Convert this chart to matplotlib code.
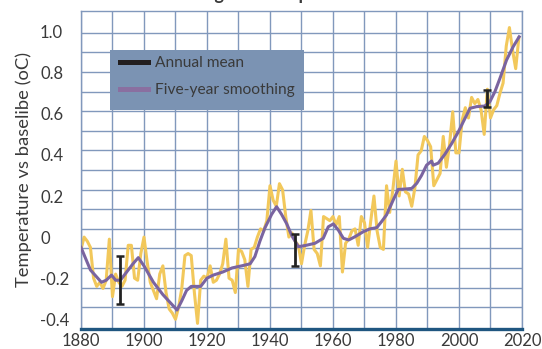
import numpy as np
import matplotlib.pyplot as plt
from matplotlib.lines import Line2D
from matplotlib.patches import Rectangle

# annual mean anomaly, 1880-2019
years = np.arange(1880, 2020)
annual = [
    -0.06, 0.00, -0.02, -0.05, -0.20, -0.24, -0.22, -0.25, -0.21, -0.01,
    -0.29, -0.18, -0.22, -0.24, -0.21, -0.04, -0.04, -0.20, -0.21, -0.08,
    0.00, -0.12, -0.22, -0.26, -0.30, -0.18, -0.14, -0.27, -0.35, -0.37,
    -0.40, -0.34, -0.25, -0.09, -0.08, -0.09, -0.27, -0.42, -0.21, -0.19,
    -0.20, -0.14, -0.22, -0.21, -0.18, -0.13, -0.01, -0.20, -0.21, -0.27,
    -0.06, -0.07, -0.11, -0.24, -0.06, -0.05, 0.00, 0.04, 0.03, 0.08,
    0.25, 0.18, 0.15, 0.26, 0.23, 0.10, 0.00, 0.02, -0.02, -0.04,
    -0.13, -0.04, 0.03, 0.13, -0.06, -0.08, -0.14, 0.10, 0.09, 0.08,
    0.10, 0.06, 0.10, -0.17, -0.03, -0.01, 0.03, 0.04, -0.04, 0.10,
    0.07, -0.05, 0.08, 0.20, 0.03, -0.05, -0.06, 0.25, 0.12, 0.23,
    0.37, 0.20, 0.33, 0.22, 0.21, 0.15, 0.24, 0.40, 0.42, 0.49,
    0.47, 0.44, 0.25, 0.28, 0.31, 0.49, 0.34, 0.45, 0.61, 0.41,
    0.41, 0.57, 0.63, 0.58, 0.68, 0.65, 0.67, 0.62, 0.50, 0.72,
    0.58, 0.62, 0.64, 0.70, 0.75, 0.93, 1.02, 0.91, 0.82, 0.97,
]

# five-year smoothing
smooth_years = [1880, 1883, 1886.5, 1888, 1889.7, 1891, 1892.5, 1894.5, 1896.5, 1898.2,
                1900, 1903, 1906, 1909, 1910.5, 1912, 1913.5, 1915, 1918, 1920,
                1922, 1925, 1928, 1931, 1933.7, 1935.2, 1936.8, 1938.4, 1940.5, 1942.1,
                1943.7, 1945.3, 1947, 1949, 1951.5, 1954.3, 1956.9, 1958.5, 1960.1, 1961.7,
                1963.3, 1965, 1967, 1969.6, 1971.7, 1973.9, 1975.4, 1977, 1979.1, 1980.7,
                1983, 1985, 1986.6, 1988.1, 1989.7, 1991.3, 1991.8, 1993.4, 1995.6, 1997.7,
                1999.8, 2001.9, 2003.5, 2005.6, 2008.2, 2009.8, 2011.4, 2013, 2015.1, 2017.2,
                2019.1]
smooth = [-0.05, -0.16, -0.22, -0.21, -0.185, -0.21, -0.21, -0.17, -0.13, -0.10,
          -0.14, -0.22, -0.28, -0.33, -0.355, -0.31, -0.26, -0.24, -0.24, -0.20,
          -0.185, -0.17, -0.15, -0.14, -0.13, -0.095, -0.02, 0.045, 0.11, 0.148,
          0.11, 0.065, 0.005, -0.047, -0.04, -0.03, -0.006, 0.05, 0.064, 0.034,
          -0.006, -0.014, 0.002, 0.026, 0.04, 0.046, 0.075, 0.108, 0.18, 0.232,
          0.234, 0.237, 0.262, 0.30, 0.35, 0.37, 0.35, 0.36, 0.405, 0.456,
          0.513, 0.578, 0.627, 0.635, 0.638, 0.659, 0.708, 0.773, 0.862, 0.927,
          0.975]

# uncertainty bars
err_years = [1892.5, 1948, 2009]
err_center = [-0.21, -0.064, 0.674]
err_half = [0.118, 0.078, 0.042]

text_col = '#3a3a3a'
grid_col = '#8198bc'
plt.rcParams['font.family'] = ['Lato', 'DejaVu Sans']

fig = plt.figure(figsize=(5.42, 3.49), dpi=100)
ax = fig.add_axes([0.1494, 0.0573, 0.8137, 0.912])

ax.set_xlim(1880, 2020)
ax.set_ylim(-0.4474, 1.102)

# grid
for gx in np.arange(1880, 2021, 10):
    ax.axvline(gx, color=grid_col, lw=1.0, zorder=1)
for gy in np.linspace(-0.342, 0.995, 15):
    ax.axhline(gy, color=grid_col, lw=1.0, zorder=1)

ax.plot(years, annual, color='#f2c85b', lw=2.2, zorder=2)
ax.plot(smooth_years, smooth, color='#7a64a0', lw=2.2, zorder=3)
ax.errorbar(err_years, err_center, yerr=err_half, fmt='none', ecolor='#222222',
            elinewidth=2.0, capsize=3, capthick=1.8, zorder=4)

for s in ['left', 'right', 'top']:
    ax.spines[s].set_color(grid_col)
    ax.spines[s].set_linewidth(1.0)
ax.spines['bottom'].set_color('#1f5680')
ax.spines['bottom'].set_linewidth(2.4)

ax.set_xticks(np.arange(1880, 2021, 20))
ax.set_yticks([-0.4, -0.2, 0, 0.2, 0.4, 0.6, 0.8, 1.0])
ax.set_yticklabels(['-0.4', '-0.2', '0', '0.2', '0.4', '0.6', '0.8', '1.0'])
ax.tick_params(axis='both', length=0, labelsize=12, labelcolor=text_col)
ax.tick_params(axis='x', pad=3)
ax.tick_params(axis='y', pad=29.5)
for lab in ax.get_yticklabels():
    lab.set_horizontalalignment('left')

ax.set_ylabel('Temperature vs baselibe (oC)', fontsize=13.2, color=text_col, labelpad=6)

# legend box
ax.add_patch(Rectangle((0.0658, 0.6865), 0.44, 0.19, transform=ax.transAxes,
                       facecolor='#7b93b3', edgecolor='none', zorder=5))
handles = [Line2D([], [], color='#231f20', lw=3.6),
           Line2D([], [], color='#8a6fa0', lw=3.6)]
ax.legend(handles, ['Annual mean', 'Five-year smoothing'], loc='upper left',
          bbox_to_anchor=(0.0884, 0.857), frameon=False, borderpad=0,
          borderaxespad=0, handlelength=1.8, handletextpad=0.45,
          labelspacing=0.85, fontsize=11.2, labelcolor=text_col).set_zorder(6)

fig.text(0.49, 1.0, 'Mean global temperature', fontsize=13, fontweight='bold',
         color=text_col, ha='center', va='baseline')

fig.savefig('out.png', dpi=100)
